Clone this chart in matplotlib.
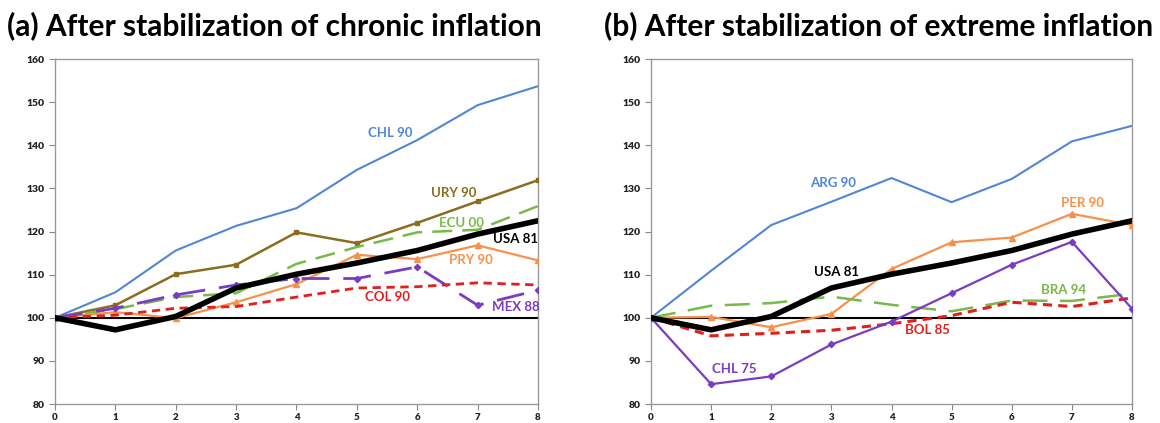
import matplotlib.pyplot as plt

plt.rcParams.update({
    "figure.facecolor": "white",
    "axes.facecolor": "white",
    "font.family": ["Lato", "DejaVu Sans"],
})

years = [0, 1, 2, 3, 4, 5, 6, 7, 8]

# Panel (a): chronic inflation
chl90 = [100, 105.9, 115.6, 121.3, 125.4, 134.3, 141.2, 149.3, 153.7]
ury90 = [100, 102.9, 110.1, 112.3, 119.8, 117.3, 122.0, 127.0, 131.9]
ecu00 = [100, 102.0, 104.8, 105.7, 112.5, 116.4, 119.8, 120.4, 125.9]
pry90 = [100, 101.3, 99.9, 103.6, 107.8, 114.6, 113.6, 116.8, 113.3]
mex88 = [100, 102.2, 105.3, 107.6, 109.1, 109.1, 111.8, 102.9, 106.4]
col90 = [100, 100.6, 102.2, 102.6, 104.8, 106.9, 107.2, 108.1, 107.6]
usa81 = [100, 97.2, 100.3, 106.9, 110.1, 112.7, 115.6, 119.4, 122.5]

# Panel (b): extreme inflation
arg90 = [100, 110.9, 121.5, 126.9, 132.4, 126.8, 132.2, 140.9, 144.5]
per90 = [100, 100.2, 97.8, 100.9, 111.3, 117.5, 118.6, 124.1, 121.5]
chl75 = [100, 84.6, 86.4, 93.8, 99.1, 105.7, 112.3, 117.6, 102.1]
bra94 = [100, 102.8, 103.4, 104.9, 103.0, 101.5, 104.0, 103.9, 105.6]
bol85 = [100, 95.8, 96.4, 97.1, 98.6, 100.5, 103.6, 102.6, 104.6]

BLUE = "#5186d6"
BROWN = "#8c6d1f"
GREEN = "#77b94a"
ORANGE = "#f7904a"
RED = "#e0201e"
PURPLE = "#7a3cc0"

fig = plt.figure(figsize=(11.6, 4.23), dpi=100)
ax1 = fig.add_axes([0.0474, 0.0449, 0.4164, 0.8156])
ax2 = fig.add_axes([0.5612, 0.0449, 0.4147, 0.8156])

for ax in (ax1, ax2):
    ax.axhline(100, color="black", linewidth=1.5, zorder=1)
    ax.set_xlim(0, 8)
    ax.set_ylim(80, 160)
    ax.set_xticks(years)
    ax.set_yticks(range(80, 161, 10))
    ax.tick_params(labelsize=7.5, length=4, width=0.8, color="#888888", direction="out")
    ax.tick_params(axis="x", pad=2.5, labelsize=7)
    for lab in ax.get_xticklabels() + ax.get_yticklabels():
        lab.set_fontweight("heavy")
        lab.set_color("#222222")
    for spine in ax.spines.values():
        spine.set_color("#999999")
        spine.set_linewidth(1.0)

# (a)
ax1.plot(years, chl90, color=BLUE, lw=1.5, zorder=3)
ax1.plot(years, ury90, color=BROWN, lw=1.8, marker="s", ms=3.5, zorder=3)
ax1.plot(years, ecu00, color=GREEN, lw=1.8, dashes=(8, 4), zorder=3)
ax1.plot(years, pry90, color=ORANGE, lw=1.6, marker="^", ms=3.8, zorder=3)
ax1.plot(years, mex88, color=PURPLE, lw=2.0, marker="D", ms=3.2, dashes=(10, 5), zorder=3)
ax1.plot(years, col90, color=RED, lw=2.0, dashes=(3, 2), zorder=3)
ax1.plot(years, usa81, color="black", lw=4, zorder=4)

lab_kw = dict(fontsize=9.5, fontweight="bold", ha="center", va="center")
ax1.text(5.56, 142.9, "CHL 90", color=BLUE, **lab_kw)
ax1.text(6.61, 128.9, "URY 90", color=BROWN, **lab_kw)
ax1.text(6.73, 121.9, "ECU 00", color=GREEN, **lab_kw)
ax1.text(7.63, 118.3, "USA 81", color="black", **lab_kw)
ax1.text(6.89, 113.4, "PRY 90", color=ORANGE, **lab_kw)
ax1.text(5.50, 104.8, "COL 90", color=RED, **lab_kw)
ax1.text(7.64, 102.5, "MEX 88", color=PURPLE, **lab_kw)

# (b)
ax2.plot(years, arg90, color=BLUE, lw=1.5, zorder=3)
ax2.plot(years, per90, color=ORANGE, lw=1.6, marker="^", ms=3.8, zorder=3)
ax2.plot(years, bra94, color=GREEN, lw=1.8, dashes=(10, 5), zorder=3)
ax2.plot(years, bol85, color=RED, lw=2.2, dashes=(3, 2), zorder=3)
ax2.plot(years, chl75, color=PURPLE, lw=1.6, marker="D", ms=3.2, zorder=3)
ax2.plot(years, usa81, color="black", lw=4, zorder=4)

ax2.text(3.03, 131.2, "ARG 90", color=BLUE, **lab_kw)
ax2.text(7.17, 126.7, "PER 90", color=ORANGE, **lab_kw)
ax2.text(3.08, 110.6, "USA 81", color="black", **lab_kw)
ax2.text(6.86, 106.5, "BRA 94", color=GREEN, **lab_kw)
ax2.text(4.60, 97.2, "BOL 85", color=RED, **lab_kw)
ax2.text(1.38, 88.2, "CHL 75", color=PURPLE, **lab_kw)

fig.text(0.006, 0.94, "(a) After stabilization of chronic inflation",
         fontsize=21.5, fontweight="bold", ha="left", va="center")
fig.text(0.521, 0.94, "(b) After stabilization of extreme inflation",
         fontsize=21.5, fontweight="bold", ha="left", va="center")

fig.savefig("out.png", dpi=100)
